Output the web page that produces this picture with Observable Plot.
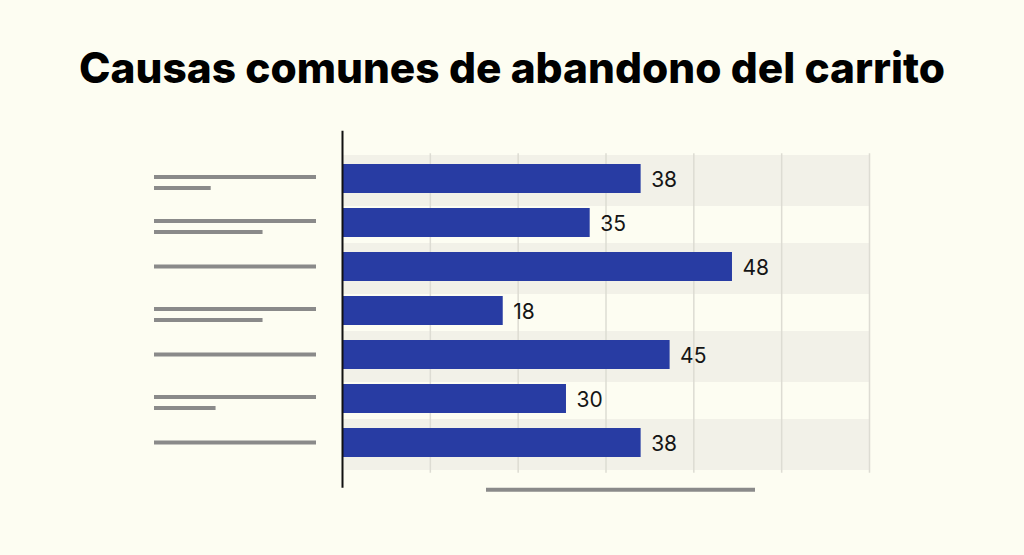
<!DOCTYPE html>
<html>
<head>
<meta charset="utf-8">
<script src="https://cdn.jsdelivr.net/npm/d3@7"></script>
<script src="https://cdn.jsdelivr.net/npm/@observablehq/plot@0.6"></script>
<style>
  html, body { margin: 0; padding: 0; background: #fdfdf2; }
  #title {
    box-sizing: border-box; height: 110px; padding-top: 24px;
    display: flex; align-items: center; justify-content: center;
    font-family: Inter, "Open Sans", sans-serif; font-weight: 800; font-size: 42.4px;
    color: #000; letter-spacing: 0px;
  }
  #chart svg { display: block; background: transparent; }
</style>
</head>
<body>
<div id="title">Causas comunes de abandono del carrito</div>
<div id="chart"></div>
<script>
// Categories (their names are shown as grey placeholder lines in the reference)
const categories = ["A", "B", "C", "D", "E", "F", "G"];
// Printed value labels
const valueLabels = ["38", "35", "48", "18", "45", "30", "38"];
// Bar lengths as drawn, read against the grid (gridlines every 10 units)
const barLengths = [34.0, 28.2, 44.4, 18.3, 37.3, 25.5, 34.0];
// Placeholder label lines per category (fraction of full line length)
const labelLines = [[1, 0.35], [1, 0.67], [1], [1, 0.67], [1], [1, 0.38], [1]];
// Grid ticks
const gridTicks = [10, 20, 30, 40, 50, 60];
// Shaded (alternate) rows
const shadedRows = ["A", "C", "E", "G"];

const rows = categories.map((c, i) => ({cat: c, value: barLengths[i], label: valueLabels[i]}));

function placeholders(index, scales, values, dims) {
  const y = scales.y;
  const bw = (y && typeof y.bandwidth === "function") ? y.bandwidth() : 29;
  const g = d3.create("svg:g").attr("stroke", "#8a8a8a").attr("stroke-width", 4).attr("fill", "none");
  const left = dims.marginLeft - 188, full = 162;
  categories.forEach((c, i) => {
    const cy = y(c) + bw / 2;
    const lines = labelLines[i];
    const offs = lines.length === 2 ? [-1.5, 9.5] : [0];
    lines.forEach((f, j) => {
      g.append("line")
        .attr("x1", left).attr("x2", left + full * f)
        .attr("y1", cy + offs[j]).attr("y2", cy + offs[j]);
    });
  });
  // x-axis title placeholder
  const by = dims.height - dims.marginBottom + 24;
  g.append("line")
    .attr("x1", dims.marginLeft + 144).attr("x2", dims.marginLeft + 413)
    .attr("y1", by).attr("y2", by);
  return g.node();
}

const chart = Plot.plot({
  width: 1024,
  height: 445,
  marginLeft: 342,
  marginRight: 155,
  marginTop: 45.2,
  marginBottom: 89.2,
  style: {background: "transparent", fontFamily: "Inter, sans-serif"},
  x: {domain: [0, 60], axis: null},
  y: {domain: categories, paddingInner: 0.341, paddingOuter: 0.2, axis: null},
  marks: [
    Plot.barX(shadedRows, {x1: 0, x2: 60, y: d => d, fill: "#f2f1e8", insetTop: -9, insetBottom: -13}),
    Plot.ruleX(gridTicks, {stroke: "#dddcd3", strokeWidth: 1.5, insetTop: -2, insetBottom: -7}),
    Plot.barX(rows, {x: "value", y: "cat", fill: "#283ca3"}),
    Plot.text(rows, {x: "value", y: "cat", text: "label", dx: 10, dy: 1, textAnchor: "start",
      fontSize: 21, fill: "#151515", fontFamily: "Inter, sans-serif"}),
    Plot.ruleX([0], {stroke: "#111", strokeWidth: 2, insetTop: -24.5, insetBottom: -22}),
    placeholders
  ]
});
document.getElementById("chart").appendChild(chart);
</script>
</body>
</html>
